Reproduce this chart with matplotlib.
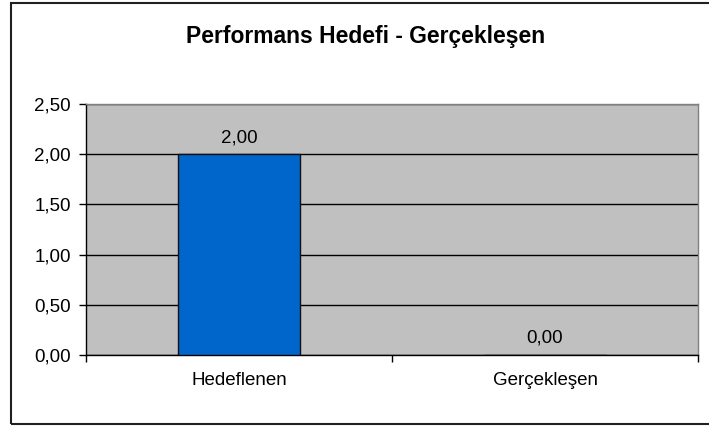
import matplotlib
matplotlib.use("Agg")
import numpy as np
from matplotlib import pyplot as plt
from matplotlib.patches import Rectangle

# chart data
categories = ["Hedeflenen", "Gerçekleşen"]
values = [2.00, 0.00]
y_ticks = [0.0, 0.5, 1.0, 1.5, 2.0, 2.5]
title = "Performans Hedefi - Gerçekleşen"

plt.rcParams['font.family'] = ['Liberation Sans', 'DejaVu Sans']


def fmt(v):
    # turkish decimal comma
    return f"{v:.2f}".replace(".", ",")


fig = plt.figure(figsize=(7.09, 4.26), dpi=100)
ax = fig.add_axes([86 / 709, 1 - 355 / 426, 612 / 709, 251 / 426])

# outer chart border
fig.patches.append(Rectangle((11 / 709, 2 / 426), 1.0, 421 / 426, transform=fig.transFigure,
                             fill=False, edgecolor="#202020", linewidth=1.5, zorder=0))

ax.set_facecolor("#C0C0C0")
x = np.arange(len(categories))
ax.bar(x, values, width=0.4, color="#0066CC", edgecolor="#101010", linewidth=1.0, zorder=3)

for xi, v in zip(x, values):
    ax.text(xi, v + 0.165, fmt(v), ha="center", va="center", fontsize=13.5, zorder=4)

ax.set_xlim(-0.5, len(categories) - 0.5)
ax.set_ylim(0, 2.5)
ax.set_yticks(y_ticks)
ax.set_yticklabels([fmt(t) for t in y_ticks], fontsize=13.5)
ax.yaxis.grid(True, color="black", linewidth=1.0, zorder=1)
ax.set_axisbelow(True)

# category labels centered, ticks at the boundaries
ax.set_xticks(x)
ax.set_xticklabels(categories, fontsize=13.5)
ax.tick_params(axis="x", which="major", length=0, pad=12)
ax.set_xticks(np.arange(-0.5, len(categories)), minor=True)
ax.tick_params(axis="x", which="minor", length=5, width=1.0, color="black")
ax.tick_params(axis="y", length=5, width=1.0, pad=6)

for side in ["top", "right"]:
    ax.spines[side].set_color("#808080")
    ax.spines[side].set_linewidth(1.0)
for side in ["left", "bottom"]:
    ax.spines[side].set_color("black")
    ax.spines[side].set_linewidth(1.0)

fig.text(366 / 709, 1 - 36 / 426, title, ha="center", va="center", fontsize=16.5, fontweight="bold")

fig.savefig("out.png", dpi=100)
